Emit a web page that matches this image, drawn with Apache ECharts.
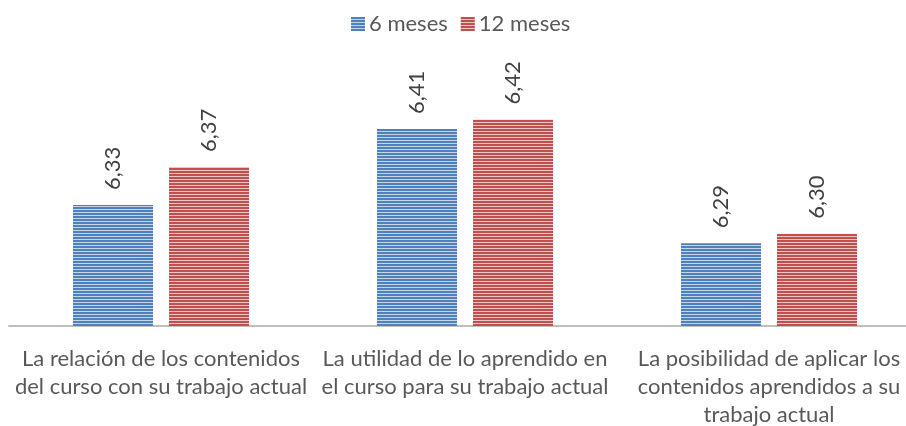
<!DOCTYPE html>
<html lang="es">
<head>
    <meta charset="UTF-8">
    <title>Valoración</title>
    <script type="text/javascript" src="https://cdn.jsdelivr.net/npm/echarts@6/dist/echarts.min.js"></script>
    <style>
        html, body { margin: 0; padding: 0; background: #fff; }
        #bar { width: 906px; height: 426px; }
    </style>
</head>
<body>
<div id="bar"></div>
<script type="text/javascript">
    var categorias = [
        'La relación de los contenidos\ndel curso con su trabajo actual',
        'La utilidad de lo aprendido en\nel curso para su trabajo actual',
        'La posibilidad de aplicar los\ncontenidos aprendidos a su\ntrabajo actual'
    ];
    var seisMeses = [6.33, 6.41, 6.29];
    var doceMeses = [6.37, 6.42, 6.30];
    var nombres = ['6 meses', '12 meses'];

    // relleno rayado como en el original
    function rayas(color, claro) {
        var c = document.createElement('canvas');
        c.width = 4;
        c.height = 3;
        var ctx = c.getContext('2d');
        ctx.fillStyle = color;
        ctx.fillRect(0, 0, 4, 3);
        ctx.fillStyle = claro;
        ctx.fillRect(0, 2, 4, 1);
        return {image: c, repeat: 'repeat'};
    }

    var fuente = 'Lato, "Open Sans", sans-serif';
    var etiqueta = {
        show: true,
        position: 'top',
        rotate: 90,
        align: 'left',
        verticalAlign: 'middle',
        distance: 15,
        color: '#404040',
        fontSize: 22,
        fontFamily: fuente,
        formatter: function (p) {
            return p.value.toFixed(2).replace('.', ',');
        }
    };

    var bar = echarts.init(document.getElementById('bar'));
    var option = {
        animation: false,
        legend: {
            top: 8,
            left: 346,
            itemWidth: 14,
            itemHeight: 14,
            itemGap: 13,
            icon: 'rect',
            textStyle: {color: '#595959', fontSize: 22, fontFamily: fuente, padding: [0, 0, 0, -1]},
            data: nombres
        },
        // el eje sigue más allá del borde derecho, como en la imagen
        grid: {left: 9, width: 912, top: 88, bottom: 100, containLabel: false, outerBoundsMode: 'none'},
        xAxis: {
            type: 'category',
            data: categorias,
            axisLine: {lineStyle: {color: '#bfbfbf', width: 2}},
            axisTick: {show: false},
            axisLabel: {
                color: '#595959',
                fontSize: 22,
                fontFamily: fuente,
                lineHeight: 28,
                margin: 19,
                interval: 0
            }
        },
        yAxis: {
            type: 'value',
            min: 6.203,
            max: 6.453,
            show: false,
            splitLine: {show: false}
        },
        series: [{
            name: nombres[0],
            type: 'bar',
            barWidth: 80,
            barGap: '20%',
            data: seisMeses,
            itemStyle: {color: rayas('#4f81bd', '#c6d4e8')},
            label: etiqueta
        }, {
            name: nombres[1],
            type: 'bar',
            barWidth: 80,
            data: doceMeses,
            itemStyle: {color: rayas('#c0504d', '#ebc6c5')},
            label: etiqueta
        }]
    };
    bar.setOption(option);
</script>
</body>
</html>
